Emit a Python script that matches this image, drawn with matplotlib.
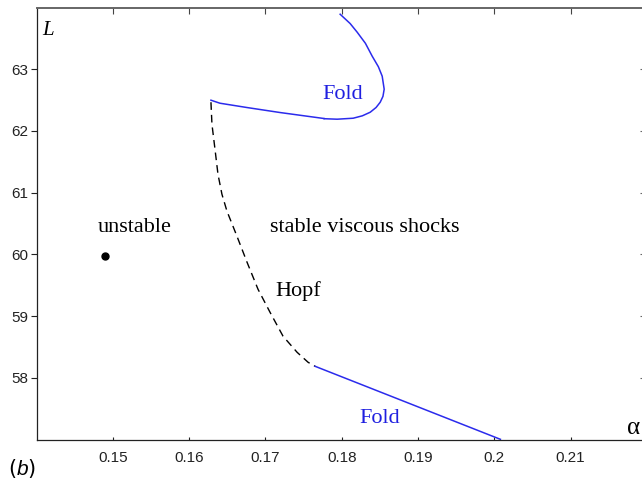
import matplotlib
matplotlib.use("Agg")
import matplotlib.pyplot as plt

plt.rcParams["mathtext.fontset"] = "custom"
plt.rcParams["mathtext.rm"] = "Liberation Sans"
plt.rcParams["mathtext.it"] = "Liberation Sans:italic"

# Hopf bifurcation curve (dashed)
hopf_alpha = [0.16286, 0.16299, 0.16339, 0.16378, 0.16430, 0.16496, 0.16627,
              0.16759, 0.16903, 0.17060, 0.17231, 0.17415, 0.17559, 0.17651]
hopf_L = [62.465, 62.109, 61.703, 61.298, 60.974, 60.699, 60.293,
          59.872, 59.434, 59.062, 58.673, 58.413, 58.251, 58.186]

# Upper fold branch: straight-ish part and the turning part
fold_up_a_alpha = [0.16286, 0.16404, 0.16759, 0.17192, 0.17769]
fold_up_a_L = [62.498, 62.449, 62.379, 62.298, 62.201]

fold_up_b_alpha = [0.17979, 0.18110, 0.18202, 0.18310, 0.18399, 0.18480,
                   0.18530, 0.18556, 0.18540, 0.18504, 0.18450, 0.18373,
                   0.18270, 0.18150, 0.17940, 0.17769]
fold_up_b_L = [63.891, 63.740, 63.600, 63.420, 63.211, 63.040,
               62.887, 62.676, 62.560, 62.465, 62.380, 62.303,
               62.245, 62.206, 62.190, 62.198]

# Lower fold branch
fold_low_alpha = [0.17651, 0.20079]
fold_low_L = [58.186, 57.003]

# Sample point in the unstable region
point_alpha = [0.14895]
point_L = [59.969]

x_ticks = [0.15, 0.16, 0.17, 0.18, 0.19, 0.20, 0.21]
x_tick_labels = ["0.15", "0.16", "0.17", "0.18", "0.19", "0.2", "0.21"]
y_ticks = [58, 59, 60, 61, 62, 63]
y_tick_labels = ["58", "59", "60", "61", "62", "63"]

W, H = 642, 484
fig = plt.figure(figsize=(W / 100, H / 100), dpi=100)
ax = fig.add_axes([36.5 / W, (H - 439.5) / H, (647 - 36.5) / W, (439.5 - 7.5) / H])
ax.set_xlim(0.14, 0.22)
ax.set_ylim(57, 64)

blue = "#2b2bec"
ax.plot(hopf_alpha, hopf_L, color="black", lw=1.0, dashes=(5.5, 3.6))
ax.plot(fold_up_a_alpha, fold_up_a_L, color=blue, lw=1.1)
ax.plot(fold_up_b_alpha, fold_up_b_L, color=blue, lw=1.1)
ax.plot(fold_low_alpha, fold_low_L, color=blue, lw=1.1)
ax.plot(point_alpha, point_L, "o", color="black", ms=5)

serif = "Liberation Serif"
ax.text(0.15289, 60.358, "unstable", family=serif, fontsize=16, ha="center", va="baseline")
ax.text(0.18301, 60.370, "stable viscous shocks", family=serif, fontsize=16,
        ha="center", va="baseline")
ax.text(0.17428, 59.326, "Hopf", family=serif, fontsize=16, ha="center", va="baseline")
ax.text(0.18014, 62.525, "Fold", family=serif, fontsize=16, color="#1f1fe0",
        ha="center", va="baseline")
ax.text(0.18500, 57.263, "Fold", family=serif, fontsize=16, color="#1f1fe0",
        ha="center", va="baseline")
ax.text(0.14081, 63.551, "L", family=serif, style="italic", fontsize=15,
        ha="left", va="baseline")
ax.text(0.21824, 57.084, "α", family=serif, fontsize=18, ha="center", va="baseline")

ax.set_xticks(x_ticks)
ax.set_xticklabels(x_tick_labels, family="Liberation Sans", fontsize=11)
ax.set_yticks(y_ticks)
ax.set_yticklabels(y_tick_labels, family="Liberation Sans", fontsize=11)
ax.tick_params(axis="x", direction="in", length=2.5, width=0.8, pad=8.5, colors="#222222")
ax.tick_params(axis="y", direction="out", length=4.5, width=0.8, pad=1.5, colors="#222222")

for side in ("left", "bottom"):
    ax.spines[side].set_color("#222222")
    ax.spines[side].set_linewidth(0.9)
ax.spines["top"].set_color("#666666")
ax.spines["top"].set_linewidth(1.4)
ax.spines["right"].set_visible(False)

top = ax.secondary_xaxis("top")
top.set_xticks(x_ticks)
top.tick_params(direction="in", length=5, width=0.8, labeltop=False, colors="#444444")
top.spines["top"].set_visible(False)

right = ax.secondary_yaxis("right")
right.set_yticks(y_ticks)
right.tick_params(direction="in", length=5, width=0.8, labelright=False, colors="#666666")

fig.text(8 / W, (H - 475) / H, r"($\mathit{b}$)", fontsize=15, ha="left", va="baseline")

fig.savefig("out.png", dpi=100)
